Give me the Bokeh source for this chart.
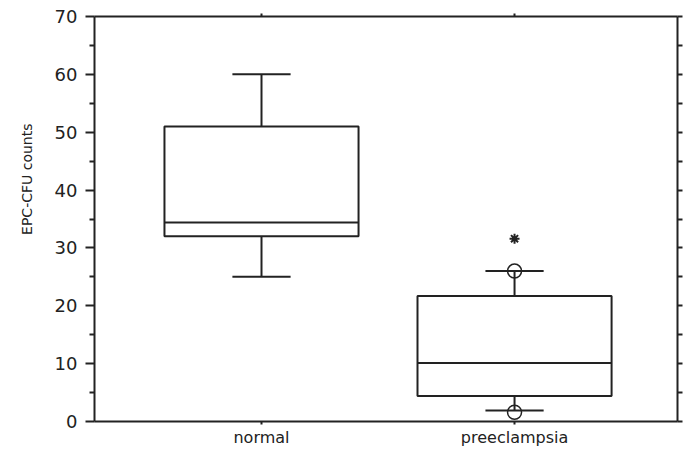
import numpy as np
from bokeh.plotting import figure
from bokeh.models import Range1d, LinearAxis, FixedTicker, Title
from bokeh.embed import file_html
from bokeh.resources import INLINE

# ---- data ----
categories = ["normal", "preeclampsia"]
upper_whisker = [60, 26]
q3 = [51, 21.7]
median = [34.4, 10.1]
q1 = [32, 4.4]
lower_whisker = [25, 1.9]
outlier_cat = ["preeclampsia", "preeclampsia"]
outlier_val = [26, 1.6]
sig_cat = ["preeclampsia"]
sig_val = [31.6]
y_ticks = [0, 10, 20, 30, 40, 50, 60, 70]
y_minor = [5, 15, 25, 35, 45, 55, 65]
y_title = "EPC-CFU counts"

pos = np.arange(1, len(categories) + 1)
cat_pos = {c: i for c, i in zip(categories, pos)}
box_w = 0.767
cap_w = 0.23
LC = "#222222"
FONT = "DejaVu Sans"

p = figure(frame_width=583, frame_height=405,
           x_range=Range1d(0.34, 2.644), y_range=Range1d(0, 70),
           output_backend="svg", toolbar_location=None,
           x_axis_location=None, y_axis_location=None,
           min_border_left=94, min_border_top=16,
           min_border_right=8, min_border_bottom=30)
p.xgrid.visible = False
p.ygrid.visible = False
p.outline_line_color = None
p.background_fill_color = "white"
p.border_fill_color = "white"

# axes
left = LinearAxis(ticker=FixedTicker(ticks=y_ticks, minor_ticks=y_minor))
left.major_tick_out = 9
left.major_tick_in = 0
left.minor_tick_out = 5
left.minor_tick_in = 0
left.major_label_standoff = 8
left.major_label_text_font = FONT
left.major_label_text_font_size = "18px"
left.major_label_text_color = LC
p.add_layout(left, "left")

ytitle = Title(text=y_title, align="right", offset=107, standoff=33,
               text_font=FONT, text_font_size="14px", text_font_style="normal",
               text_color=LC)
p.add_layout(ytitle, "left")

right = LinearAxis(ticker=FixedTicker(ticks=y_ticks, minor_ticks=y_minor))
right.major_tick_out = 5
right.major_tick_in = 0
right.minor_tick_out = 5
right.minor_tick_in = 0
right.major_label_overrides = {t: "" for t in y_ticks}
right.major_label_standoff = 0
p.add_layout(right, "right")

bottom = LinearAxis(ticker=FixedTicker(ticks=list(pos)))
bottom.major_label_overrides = {int(i): c for c, i in zip(categories, pos)}
bottom.major_tick_out = 3
bottom.major_tick_in = 0
bottom.major_label_standoff = 3
bottom.major_label_text_font = FONT
bottom.major_label_text_font_size = "16px"
bottom.major_label_text_color = LC
p.add_layout(bottom, "below")

top = LinearAxis(ticker=FixedTicker(ticks=list(pos)))
top.major_tick_out = 3
top.major_tick_in = 0
top.major_label_overrides = {int(i): "" for i in pos}
top.major_label_standoff = 0
p.add_layout(top, "above")

for ax in (left, right, bottom, top):
    ax.axis_line_width = 2
    ax.axis_line_color = LC
    ax.major_tick_line_width = 2
    ax.major_tick_line_color = LC
    ax.minor_tick_line_width = 2
    ax.minor_tick_line_color = LC if ax in (left, right) else None

# whiskers (vertical)
p.segment(x0=pos, y0=q3, x1=pos, y1=upper_whisker, line_color=LC, line_width=2)
p.segment(x0=pos, y0=q1, x1=pos, y1=lower_whisker, line_color=LC, line_width=2)
# caps
p.segment(x0=pos - cap_w / 2, y0=upper_whisker, x1=pos + cap_w / 2, y1=upper_whisker,
          line_color=LC, line_width=2)
p.segment(x0=pos - cap_w / 2, y0=lower_whisker, x1=pos + cap_w / 2, y1=lower_whisker,
          line_color=LC, line_width=2)
# boxes
p.vbar(x=pos, width=box_w, top=q3, bottom=q1, fill_color="white",
       line_color=LC, line_width=2)
# medians
p.segment(x0=pos - box_w / 2, y0=median, x1=pos + box_w / 2, y1=median,
          line_color=LC, line_width=2)
# outliers
ox = [cat_pos[c] for c in outlier_cat]
p.scatter(x=ox, y=outlier_val, size=14, marker="circle", fill_color=None,
          line_color=LC, line_width=1.5)
# significance marker
sx = [cat_pos[c] for c in sig_cat]
p.scatter(x=sx, y=sig_val, marker="asterisk", size=10, line_color=LC, line_width=2)

open("out.html", "w").write(file_html(p, INLINE))
